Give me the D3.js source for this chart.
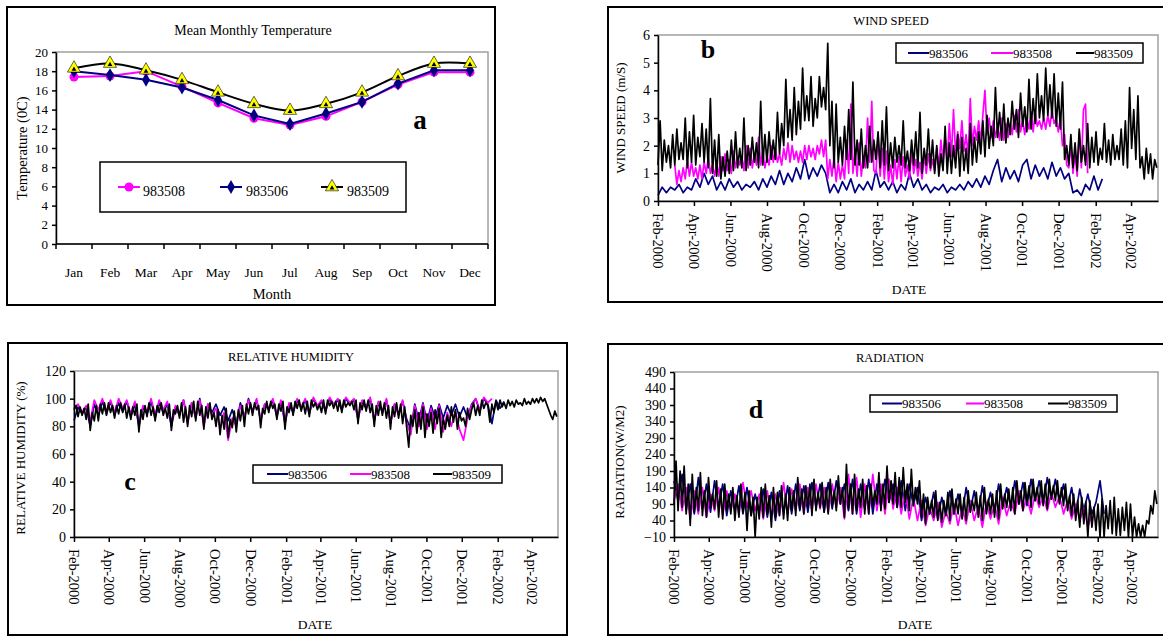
<!DOCTYPE html>
<meta charset="utf-8">
<style>
body { margin: 0; background: #fff; }
svg text { font-family: "Liberation Serif", "Times New Roman", serif; fill: #000; }
.axis path, .axis line { stroke: #000; stroke-width: 1.5px; }
.frame { fill: none; stroke: #000; stroke-width: 2px; }
.plotbox { fill: none; stroke: #a0a0a0; stroke-width: 1.5px; }
</style>
<svg id="chart" width="1163" height="637"></svg>
<script src="https://cdn.jsdelivr.net/npm/d3@7"></script>
<script>

// ---- panel a : mean monthly temperature ----
var months = ["Jan", "Feb", "Mar", "Apr", "May", "Jun", "Jul", "Aug", "Sep", "Oct", "Nov", "Dec"];
var temp983508 = [17.4, 17.5, 18.0, 16.4, 14.7, 13.1, 12.4, 13.3, 14.8, 16.6, 17.9, 17.9];
var temp983506 = [18.0, 17.6, 17.1, 16.3, 15.0, 13.4, 12.5, 13.6, 14.8, 16.7, 18.1, 18.1];
var temp983509 = [18.3, 18.8, 18.1, 17.1, 15.8, 14.6, 13.9, 14.6, 15.8, 17.5, 18.8, 18.8];
var tempTicks = [0, 2, 4, 6, 8, 10, 12, 14, 16, 18, 20];

// ---- daily series, every few days ----
var startDate = new Date(2000, 1, 1);
var endDate = new Date(2002, 4, 16);
var dateTickLabels = ["Feb-2000", "Apr-2000", "Jun-2000", "Aug-2000", "Oct-2000", "Dec-2000", "Feb-2001",
  "Apr-2001", "Jun-2001", "Aug-2001", "Oct-2001", "Dec-2001", "Feb-2002", "Apr-2002"];

// wind speed (m/s); 983506 every 7 days, the others every 3.5 days
var wind983506 = [0.2,0.5,0.3,0.5,0.4,0.6,0.3,0.5,0.4,0.8,
  0.5,1.0,0.6,0.9,0.4,0.7,0.4,0.8,0.5,0.7,
  0.4,0.6,0.5,0.7,0.4,0.8,0.5,0.9,0.6,1.1,
  0.6,1.0,0.7,1.2,0.8,1.5,0.8,1.2,0.9,1.3,
  1.0,0.3,0.6,0.3,0.7,0.4,0.8,0.3,0.6,0.4,
  0.7,0.4,1.1,0.5,0.7,0.4,0.7,0.3,0.6,0.4,
  1.0,0.5,0.8,0.4,0.6,0.3,0.5,0.4,0.6,0.3,
  0.5,0.4,0.6,0.4,0.7,0.5,0.8,0.5,0.9,0.6,
  1.1,1.5,0.7,1.2,0.8,1.1,0.7,1.3,1.5,0.8,
  1.3,0.9,1.2,0.8,1.4,0.9,1.2,0.8,1.0,0.3,
  0.4,0.2,0.6,0.4,0.9,0.4,0.8];
var wind983508 = [
  1.3,0.6,1.1,0.7, 1.2,0.8,1.5,0.9, 1.4,0.9,1.2,0.8, 1.3,0.8,1.4,1.0, 1.6,1.0,1.3,0.9,
  1.4,0.9,1.6,1.1, 1.7,1.1,1.5,1.0, 1.8,1.2,1.6,1.3, 1.6,1.1,2.0,1.2, 1.9,1.2,1.7,1.3,
  2.3,1.3,1.8,1.2, 1.6,1.3,2.0,1.4, 1.9,1.4,1.7,1.3, 1.9,1.5,2.1,1.4, 2.0,1.5,1.8,1.4,
  1.8,1.4,2.0,1.5, 2.0,1.6,1.9,1.5, 2.0,1.7,2.2,1.6, 2.2,0.8,1.5,0.9, 1.6,0.7,1.4,0.8,
  1.3,0.8,2.2,1.0, 3.5,1.0,1.8,0.9, 2.1,0.9,1.6,1.2, 3.0,1.4,3.6,1.1, 1.0,2.4,0.9,1.9,
  0.8,1.8,0.7,1.3, 0.6,1.5,0.8,1.6, 0.7,1.6,0.9,1.3, 0.8,1.8,1.0,1.5, 0.9,1.4,0.8,1.7,
  1.0,1.7,1.1,1.5, 1.1,1.9,1.2,2.2, 1.4,2.3,1.5,2.8, 1.6,3.3,1.7,2.5, 1.9,2.9,1.8,2.4,
  1.6,3.7,2.0,2.7, 2.2,2.9,2.1,3.1, 4.0,2.4,3.0,2.3, 2.9,2.3,2.7,2.2, 3.0,2.2,2.8,2.3,
  2.8,2.4,3.1,2.5, 3.3,2.5,2.9,2.4, 3.0,2.6,3.2,2.5, 3.2,2.7,2.9,2.6, 3.0,2.6,3.1,2.7,
  3.3,2.8,3.0,2.5, 3.0,2.0,2.4,1.3, 1.2,2.1,1.0,1.7, 0.9,2.5,1.2,3.3, 3.5,1.0];
var wind983509 = [
  1.3,2.9,1.1,2.2, 1.4,2.0,1.2,2.4, 1.3,2.6,1.5,2.1, 1.5,3.0,1.2,2.5, 1.4,3.1,1.3,2.3,
  1.6,2.8,1.4,2.6, 1.2,3.7,1.0,2.2, 0.9,2.4,0.8,1.6, 0.9,1.8,1.0,2.2, 1.1,2.5,1.2,1.9,
  1.2,3.0,1.1,2.0, 1.3,2.3,1.4,2.1, 1.2,3.6,1.3,2.4, 1.4,2.5,1.5,2.2, 1.5,3.2,1.7,2.8,
  2.0,4.4,2.3,3.3, 2.2,4.1,2.4,3.6, 2.6,4.8,2.9,3.8, 2.9,4.5,2.7,3.7, 3.0,4.5,3.4,4.1,
  3.3,5.7,2.0,3.6, 1.2,3.5,1.4,2.3, 1.3,2.7,1.5,3.3, 1.5,4.3,1.3,2.2, 1.3,2.6,1.2,2.0,
  1.2,2.7,1.4,2.2, 1.5,2.5,1.2,2.9, 1.3,3.4,1.1,2.1, 1.2,2.3,1.4,2.0, 1.3,2.9,1.2,1.8,
  1.1,2.2,1.3,2.5, 1.2,3.2,1.0,1.9, 1.3,2.6,1.2,2.2, 1.0,2.0,0.9,1.7, 1.1,2.7,1.0,2.1,
  1.0,2.0,1.2,2.4, 0.9,2.3,1.1,1.9, 1.0,2.8,1.3,2.3, 1.4,2.5,1.7,2.9, 1.6,3.1,1.9,2.7,
  2.0,4.1,2.3,3.2, 2.2,3.5,2.1,3.0, 2.4,3.6,2.6,3.3, 2.3,3.9,2.7,3.4, 2.5,4.4,2.6,3.7,
  2.8,4.6,3.0,3.8, 2.9,4.8,3.1,4.2, 3.0,4.6,2.7,3.9, 2.6,4.3,1.5,2.0, 1.3,2.4,1.2,2.1,
  1.1,2.6,1.4,2.0, 1.3,2.8,1.2,2.3, 1.4,2.5,1.3,1.9, 1.5,2.8,1.4,2.2, 1.3,2.4,1.5,2.0,
  1.5,2.6,1.3,2.9, 1.2,4.1,1.9,3.3, 1.5,3.8,1.2,1.6, 0.8,1.9,1.0,1.7, 0.8,1.5,1.2];
var windTicks = [0, 1, 2, 3, 4, 5, 6];

// relative humidity (%); 983509 every 3.5 days, the others every 7 days
var rh983506 = [84,94,89,94,80,96,88,98,89,98,
  88,97,91,98,87,96,80,94,89,98,
  86,97,90,96,80,94,88,99,83,97,
  86,100,82,96,90,96,88,94,84,92,
  82,97,86,100,91,99,84,96,92,99,
  87,98,82,96,90,99,93,99,89,100,
  94,98,91,100,95,99,92,100,96,99,
  85,98,93,100,84,97,90,99,83,96,
  89,98,85,78,96,84,97,83,95,86,
  96,86,95,88,96,87,94,86,96,100,
  91,100,96,82,99,93,98];
var rh983508 = [93,96,90,95,84,99,92,100,91,99,
  90,100,93,99,89,98,82,95,91,100,
  88,99,92,98,83,95,89,99,82,97,
  87,99,80,96,88,93,78,90,70,86,
  80,95,86,99,90,100,85,96,93,100,
  88,99,84,97,91,100,94,100,90,101,
  95,99,92,101,96,100,93,101,97,100,
  86,99,94,101,84,98,91,100,82,96,
  88,99,82,74,95,80,96,78,93,78,
  95,76,90,80,91,78,70,86,95,100,
  92,101,97,100];
var rh983509 = [
  92,95,87,94, 88,93,85,96, 77,90,84,95, 84,96,89,97, 88,97,90,95,
  86,95,89,97, 90,96,86,94, 85,94,88,96, 76,92,85,95, 87,97,88,94,
  84,95,90,97, 88,93,86,96, 77,92,89,95, 86,97,83,94, 80,95,87,98,
  84,98,88,95, 78,94,86,97, 85,90,80,92, 74,88,78,93, 72,85,79,91,
  76,92,84,95, 80,96,89,97, 88,97,92,95, 79,93,89,98, 90,98,93,96,
  85,96,91,98, 78,94,90,97, 88,98,93,99, 91,97,89,98, 87,99,94,97,
  92,96,90,99, 89,99,95,98, 93,98,91,99, 90,99,94,97, 95,98,92,99,
  82,97,92,99, 91,99,90,96, 80,95,88,98, 88,97,86,95, 78,94,87,97,
  86,96,82,94, 79,65,88,80, 92,75,90,78, 94,72,89,80, 90,75,92,82,
  93,72,86,78, 88,80,94,83, 92,78,90,84, 86,80,93,85, 92,97,88,95,
  88,99,93,97, 95,83,96,90, 98,92,99,94, 97,93,99,95, 98,94,99,96,
  97,95,100,96, 98,96,100,97, 100,97,101,98, 100,96,92,88, 85,91,87];
var rhTicks = [0, 20, 40, 60, 80, 100, 120];

// radiation (W/m2); 983509 every 3.5 days, the others every 7 days
var rad983506 = [160,100,180,70,150,60,170,75,150,65,
  160,80,150,55,130,70,145,60,140,55,
  120,65,135,50,125,40,130,60,145,60,
  150,70,145,65,155,80,150,65,155,75,
  160,90,150,70,165,60,150,75,165,60,
  150,80,165,95,150,80,160,70,150,85,
  140,40,110,60,125,45,110,55,130,60,
  120,55,140,70,130,60,145,75,125,65,
  150,85,140,80,160,90,155,85,165,100,
  160,90,170,105,165,95,150,80,140,60,
  135,70,120,60,95,160,60];
var rad983508 = [100,150,70,140,45,130,60,140,50,120,
  70,140,55,130,70,120,60,155,80,130,
  70,120,45,130,50,120,55,155,60,135,
  70,150,60,140,70,150,75,140,65,150,
  80,140,45,180,60,170,50,150,60,180,
  70,150,60,165,75,140,60,130,45,110,
  40,100,25,80,40,95,20,70,30,90,
  25,80,30,100,40,85,20,95,45,90,
  30,110,55,100,60,130,70,110,60,120,
  80,115,70,125,80,115,60,100,45,90,
  40,80,20,60];
var rad983509 = [
  90,220,70,190, 80,205,60,150, 25,180,65,140, 70,185,55,130, 50,170,80,120,
  75,160,50,135, 45,150,70,120, 60,140,40,115, 50,150,65,125, 10,130,55,110,
  -10,110,45,140, 50,150,60,115, 20,140,50,125, 55,145,45,120, 40,140,70,130,
  55,170,75,135, 60,145,80,150, 55,165,70,125, 80,155,65,140, 60,165,85,130,
  70,175,90,140, 50,210,75,150, 60,180,70,135, 80,165,60,145, 60,150,85,130,
  90,185,70,150, 75,205,95,160, 90,185,80,170, 80,200,95,150, 70,195,85,140,
  90,160,50,120, 30,110,60,100, 50,130,40,95, 35,100,55,125, 40,135,60,105,
  60,120,45,110, 40,130,65,100, 70,125,50,115, 40,140,60,105, 60,120,50,130,
  45,150,75,120, 80,135,70,140, 60,160,90,130, 70,155,95,145, 80,165,100,140,
  90,160,85,150, 75,165,105,145, 100,160,90,140, 85,150,70,115, 55,120,40,100,
  20,110,30,95, -10,100,20,80, 10,90,-10,105, -10,85,15,100, 0,110,-5,75,
  -5,80,10,95, -10,90,-10,50, -10,30,-10,25, -10,40,30,85, 60,130,90];
var radTicks = [-10, 40, 90, 140, 190, 240, 290, 340, 390, 440, 490];

var blue = "#000080", pink = "#ff00ff", black = "#000000";

var svg = d3.select("#chart");

// ================= panel a =================
svg.append("rect").attr("class", "frame").attr("x", 7).attr("y", 7).attr("width", 488).attr("height", 298);

var xa = d3.scaleBand().domain(months).range([56, 488]);
var ya = d3.scaleLinear().domain([0, 20]).range([244, 52]);

svg.append("rect").attr("class", "plotbox").attr("x", 56).attr("y", 52).attr("width", 432).attr("height", 192);

svg.append("text").attr("x", 253).attr("y", 35).attr("text-anchor", "middle")
    .style("font-size", "14px").text("Mean Monthly Temperature");

svg.append("g").attr("class", "axis").attr("transform", "translate(56,0)")
    .call(d3.axisLeft(ya).tickValues(tempTicks).tickSize(4).tickPadding(4).tickSizeOuter(0))
    .selectAll("text").style("font-size", "13px").style("font-family", "Liberation Serif");

var xAxisA = svg.append("g").attr("class", "axis");
xAxisA.append("line").attr("x1", 56).attr("x2", 488).attr("y1", 244).attr("y2", 244);
xAxisA.selectAll(".tk").data(months.concat(["end"])).enter().append("line")
    .attr("x1", function(d) { return d === "end" ? 488 : xa(d); })
    .attr("x2", function(d) { return d === "end" ? 488 : xa(d); })
    .attr("y1", 244).attr("y2", 249);
svg.selectAll(".mlab").data(months).enter().append("text")
    .attr("x", function(d) { return xa(d) + xa.bandwidth() / 2; })
    .attr("y", 277).attr("text-anchor", "middle").style("font-size", "13.5px")
    .text(function(d) { return d; });

svg.append("text").attr("x", 272).attr("y", 299).attr("text-anchor", "middle")
    .style("font-size", "14.5px").text("Month");
svg.append("text").attr("transform", "translate(27,148) rotate(-90)").attr("text-anchor", "middle")
    .style("font-size", "14.5px").text("Temperature (0C)");
svg.append("text").attr("x", 420).attr("y", 129).attr("text-anchor", "middle")
    .style("font-size", "27px").style("font-weight", "bold").text("a");

function monthPts(vals) {
  return vals.map(function(v, i) { return { m: months[i], v: v }; });
}
var lineA = d3.line().x(function(d) { return xa(d.m) + xa.bandwidth() / 2; }).y(function(d) { return ya(d.v); });
var smoothA = d3.line().x(function(d) { return xa(d.m) + xa.bandwidth() / 2; }).y(function(d) { return ya(d.v); })
    .curve(d3.curveCatmullRom.alpha(0.5));

var triBig = d3.symbol().type(d3.symbolTriangle).size(75);
var triSmall = d3.symbol().type(d3.symbolTriangle).size(10);
var diamond = d3.symbol().type(d3.symbolDiamond).size(55);

function drawPink(g, pts) {
  g.selectAll(".pc").data(pts).enter().append("circle")
      .attr("cx", function(d) { return d.x; }).attr("cy", function(d) { return d.y; })
      .attr("r", 4.5).attr("fill", pink);
}
function drawDiamond(g, pts) {
  g.selectAll(".dm").data(pts).enter().append("path").attr("d", diamond)
      .attr("transform", function(d) { return "translate(" + d.x + "," + d.y + ")"; })
      .attr("fill", blue);
}
function drawTri(g, pts) {
  var t = g.selectAll(".tr").data(pts).enter().append("g")
      .attr("transform", function(d) { return "translate(" + d.x + "," + d.y + ")"; });
  t.append("path").attr("d", triBig).attr("fill", "#ffff00").attr("stroke", "#000").attr("stroke-width", 0.6);
  t.append("path").attr("d", triSmall).attr("fill", "#000").attr("transform", "translate(0,1)");
}
function xyA(vals) {
  return vals.map(function(v, i) { return { x: xa(months[i]) + xa.bandwidth() / 2, y: ya(v) }; });
}

svg.append("path").attr("d", lineA(monthPts(temp983508))).attr("fill", "none").attr("stroke", pink).attr("stroke-width", 2);
drawPink(svg.append("g"), xyA(temp983508));
svg.append("path").attr("d", lineA(monthPts(temp983506))).attr("fill", "none").attr("stroke", blue).attr("stroke-width", 2);
drawDiamond(svg.append("g"), xyA(temp983506));
svg.append("path").attr("d", smoothA(monthPts(temp983509))).attr("fill", "none").attr("stroke", black).attr("stroke-width", 2);
drawTri(svg.append("g"), xyA(temp983509));

// legend a
svg.append("rect").attr("x", 100).attr("y", 162).attr("width", 306).attr("height", 50)
    .attr("fill", "#fff").attr("stroke", "#000").attr("stroke-width", 1.5);
var legA = [
  { x1: 118, x2: 140, tx: 143, color: pink, label: "983508", mark: drawPink },
  { x1: 220, x2: 242, tx: 246, color: blue, label: "983506", mark: drawDiamond },
  { x1: 321, x2: 343, tx: 347, color: black, label: "983509", mark: drawTri }
];
legA.forEach(function(l) {
  var g = svg.append("g");
  g.append("line").attr("x1", l.x1).attr("x2", l.x2).attr("y1", 187).attr("y2", 187)
      .attr("stroke", l.color).attr("stroke-width", 2);
  l.mark(g, [{ x: (l.x1 + l.x2) / 2, y: 187 }]);
  g.append("text").attr("x", l.tx).attr("y", 196).style("font-size", "14px").text(l.label);
});

// ================= time series panels =================
var dateParse = d3.timeParse("%b-%Y");
var dateTicks = dateTickLabels.map(dateParse);

// start and step are in days
function seriesPts(vals, start, step) {
  return vals.map(function(v, i) {
    return { t: d3.timeHour.offset(startDate, Math.round((start + i * step) * 24)), v: v };
  });
}

function timePanel(o) {
  svg.append("rect").attr("class", "frame").attr("x", o.box[0]).attr("y", o.box[1])
      .attr("width", o.box[2] - o.box[0]).attr("height", o.box[3] - o.box[1]);

  var x = d3.scaleTime().domain([startDate, endDate]).range([o.left, o.right]);
  var y = d3.scaleLinear().domain(o.yDomain).range([o.bottom, o.top]);

  svg.append("rect").attr("class", "plotbox").attr("x", o.left).attr("y", o.top)
      .attr("width", o.right - o.left).attr("height", o.bottom - o.top);

  var line = d3.line().x(function(d) { return x(d.t); }).y(function(d) { return y(d.v); });
  o.series.forEach(function(s) {
    svg.append("path").attr("d", line(seriesPts(s.values, s.start || 0, s.step)))
        .attr("fill", "none").attr("stroke", s.color).attr("stroke-width", 1.7)
        .attr("stroke-linejoin", "round");
  });

  svg.append("g").attr("class", "axis").attr("transform", "translate(" + o.left + ",0)")
      .call(d3.axisLeft(y).tickValues(o.yTicks).tickFormat(d3.format("d")).tickSize(4).tickPadding(4).tickSizeOuter(0))
      .selectAll("text").style("font-size", "14px").style("font-family", "Liberation Serif");

  svg.append("g").attr("class", "axis").attr("transform", "translate(0," + o.bottom + ")")
      .call(d3.axisBottom(x).tickValues(dateTicks).tickFormat(d3.timeFormat("%b-%Y")).tickSize(5).tickSizeOuter(0))
      .selectAll("text")
      .attr("transform", "rotate(90)").attr("x", 12).attr("y", 0).attr("dy", "0.35em")
      .style("text-anchor", "start").style("font-size", "14.5px").style("font-family", "Liberation Serif");

  svg.append("text").attr("x", o.titleX).attr("y", o.top - 10).attr("text-anchor", "middle")
      .style("font-size", "12.5px").text(o.title);
  svg.append("text").attr("transform", "translate(" + o.ylabX + "," + o.ylabY + ") rotate(-90)")
      .attr("text-anchor", "middle").style("font-size", "13px").text(o.ylab);
  svg.append("text").attr("x", o.dateX).attr("y", o.dateY).attr("text-anchor", "middle")
      .style("font-size", "13.5px").text("DATE");
  svg.append("text").attr("x", o.letter[0]).attr("y", o.letter[1]).attr("text-anchor", "middle")
      .style("font-size", "26px").style("font-weight", "bold").text(o.letter[2]);

  var L = o.legend;
  svg.append("rect").attr("x", L.x).attr("y", L.y).attr("width", L.w).attr("height", L.h)
      .attr("fill", "#fff").attr("stroke", "#000").attr("stroke-width", 1.5);
  var cy = L.y + L.h / 2;
  o.series.forEach(function(s, i) {
    var it = L.items[i];
    svg.append("line").attr("x1", it[0]).attr("x2", it[1]).attr("y1", cy).attr("y2", cy)
        .attr("stroke", s.color).attr("stroke-width", 2);
    svg.append("text").attr("x", it[1]).attr("y", cy + 4.5).style("font-size", "13px").text(s.name);
  });
}

// panel b
timePanel({
  box: [608, 7, 1175, 302], left: 658, right: 1158, top: 35, bottom: 201,
  yDomain: [0, 6], yTicks: windTicks,
  title: "WIND SPEED", titleX: 891, ylab: "WIND SPEED (m/S)", ylabX: 625, ylabY: 118,
  dateX: 909, dateY: 294, letter: [708, 58, "b"],
  legend: { x: 896, y: 43, w: 247, h: 20, items: [[908, 929], [991, 1013], [1076, 1094]] },
  series: [
    { name: "983506", values: wind983506, start: 0, step: 7, color: blue },
    { name: "983508", values: wind983508, start: 28, step: 3.5, color: pink },
    { name: "983509", values: wind983509, start: 0, step: 3.5, color: black }
  ]
});

// panel c
timePanel({
  box: [8, 343, 567, 635], left: 74, right: 558, top: 371, bottom: 537,
  yDomain: [0, 120], yTicks: rhTicks,
  title: "RELATIVE HUMIDITY", titleX: 291, ylab: "RELATIVE HUMIDITY (%)", ylabX: 25, ylabY: 458,
  dateX: 315, dateY: 629, letter: [130, 490, "c"],
  legend: { x: 253, y: 465, w: 249, h: 18, items: [[267, 288], [350, 371], [433, 452]] },
  series: [
    { name: "983506", values: rh983506, step: 7, color: blue },
    { name: "983508", values: rh983508, step: 7, color: pink },
    { name: "983509", values: rh983509, step: 3.5, color: black }
  ]
});

// panel d
timePanel({
  box: [608, 344, 1175, 635], left: 674, right: 1158, top: 372, bottom: 537,
  yDomain: [-10, 490], yTicks: radTicks,
  title: "RADIATION", titleX: 890, ylab: "RADIATION(W/M2)", ylabX: 624, ylabY: 462,
  dateX: 915, dateY: 629, letter: [756, 418, "d"],
  legend: { x: 870, y: 395, w: 247, h: 17, items: [[882, 902], [966, 984], [1048, 1068]] },
  series: [
    { name: "983506", values: rad983506, step: 7, color: blue },
    { name: "983508", values: rad983508, step: 7, color: pink },
    { name: "983509", values: rad983509, step: 3.5, color: black }
  ]
});

</script>
